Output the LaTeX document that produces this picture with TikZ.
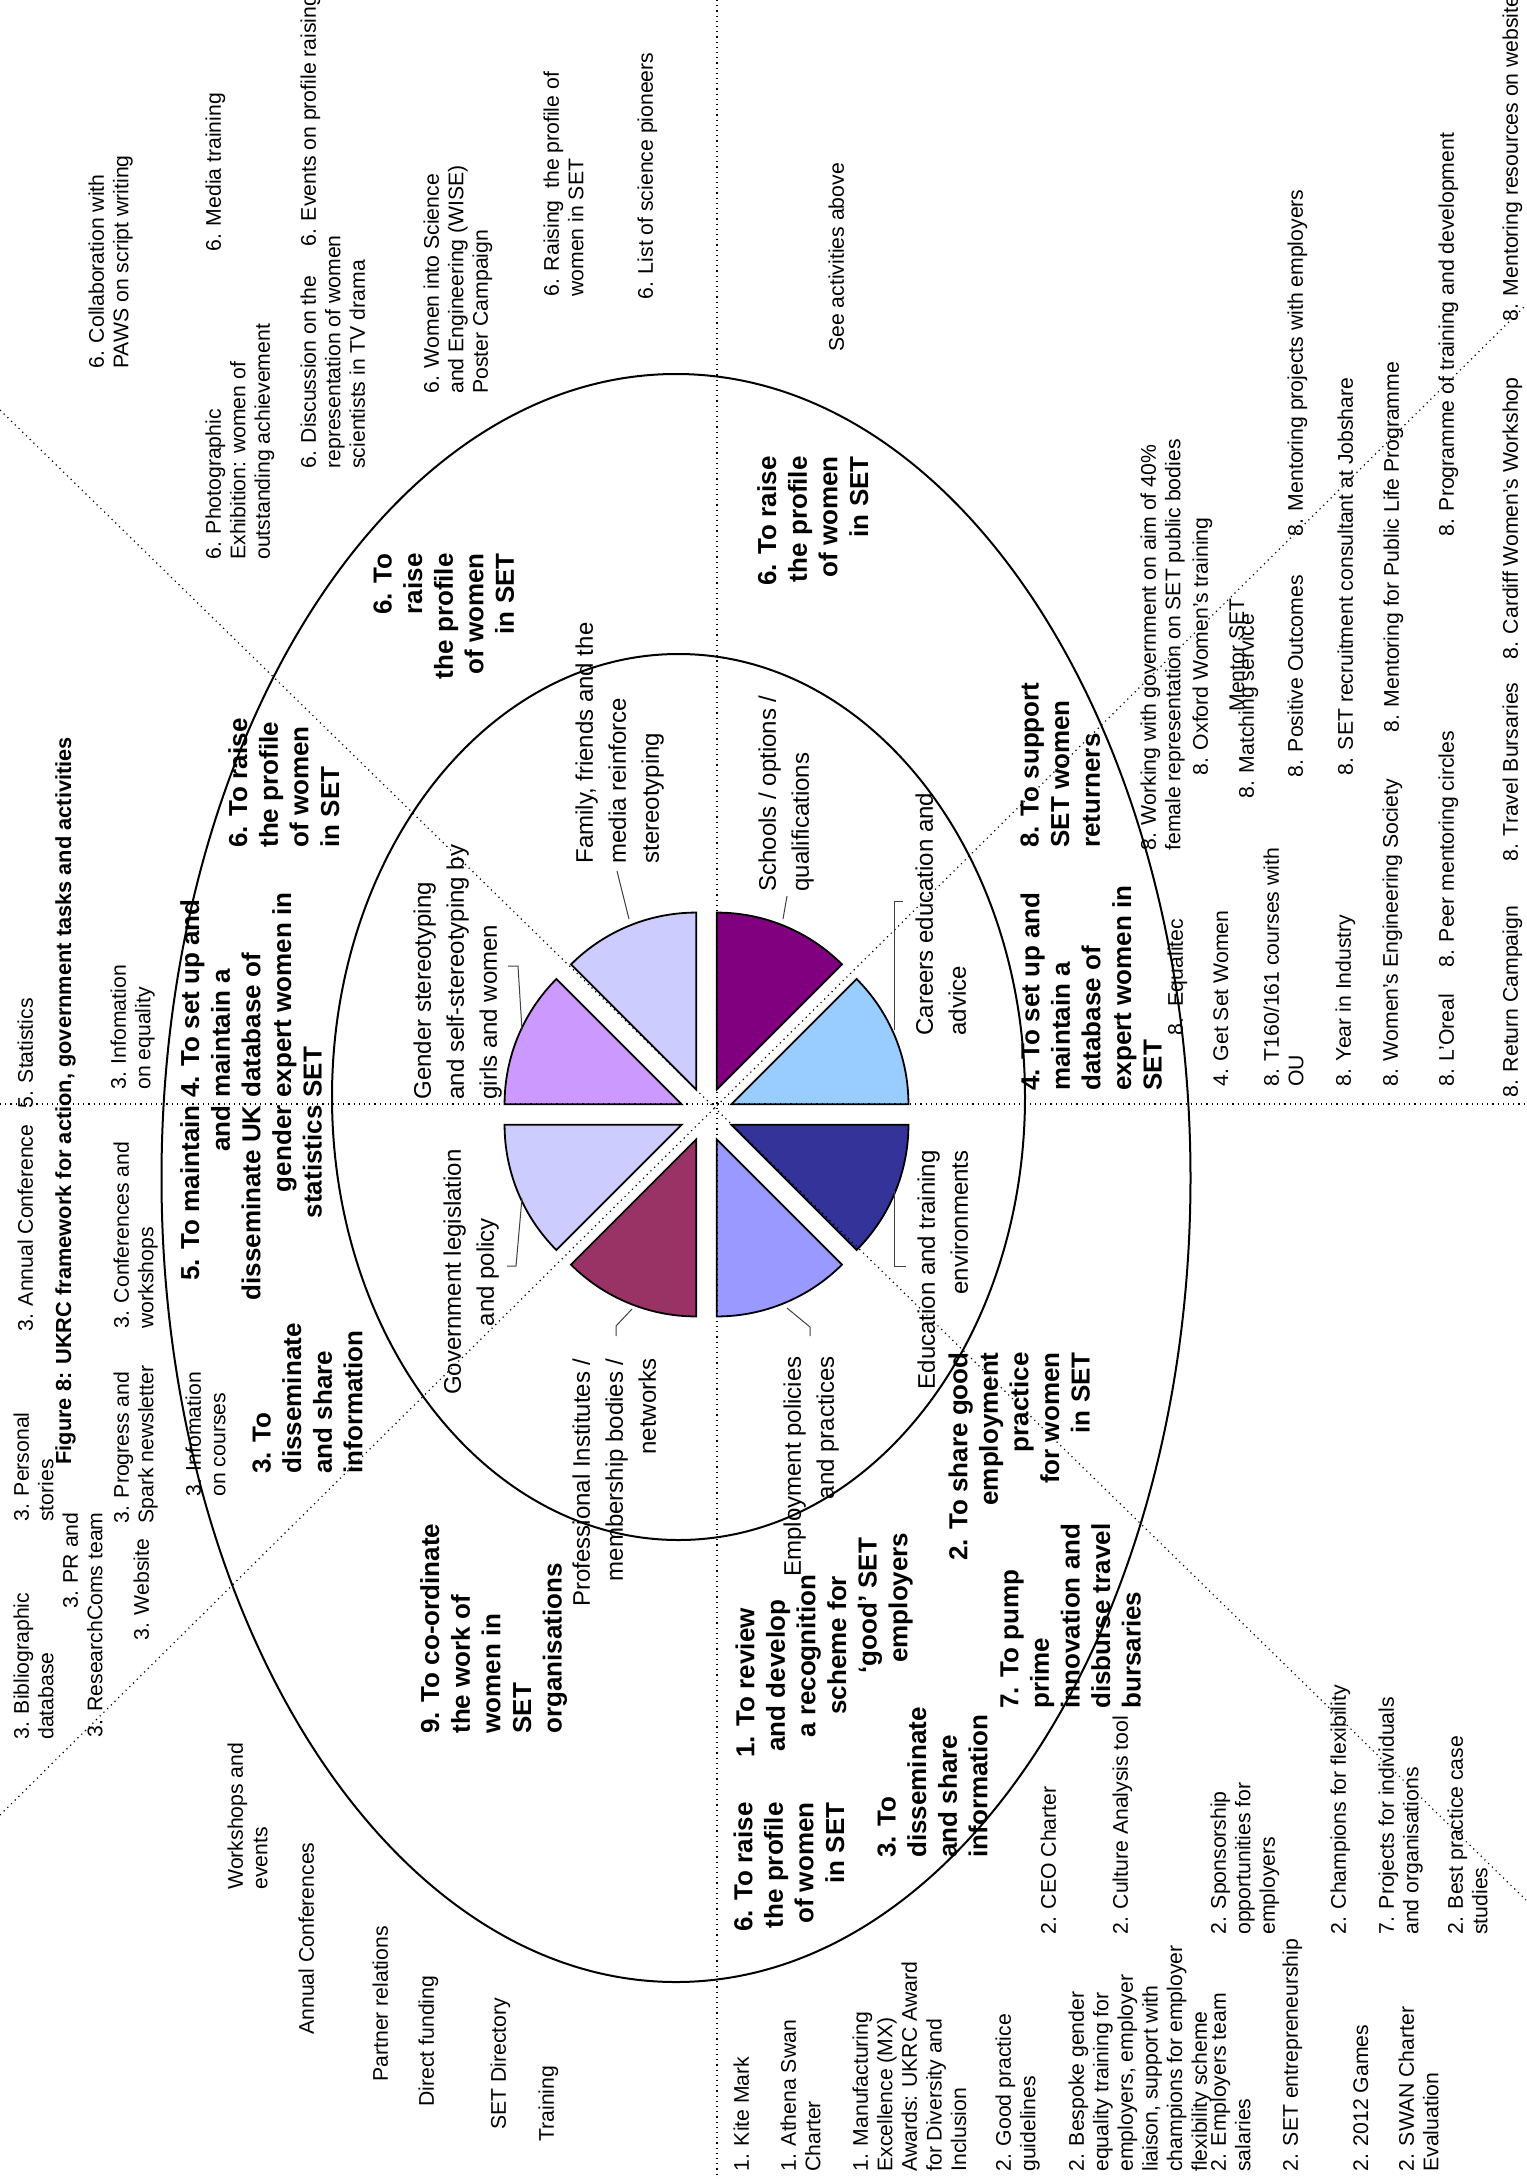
\documentclass[tikz,border=0pt]{standalone}
\usepackage{fontspec}
\setmainfont{Liberation Sans}
\usetikzlibrary{positioning}

\definecolor{careersblue}{HTML}{99CCFF}
\definecolor{schoolspurple}{HTML}{800080}
\definecolor{familylavender}{HTML}{CCCCFF}
\definecolor{genderlilac}{HTML}{CC99FF}
\definecolor{instmaroon}{HTML}{993366}
\definecolor{employperi}{HTML}{9999FF}
\definecolor{edunavy}{HTML}{333399}

\begin{document}
\begin{tikzpicture}[x=0.5pt,y=-0.5pt]
\tikzset{RING/.style={draw,line width=1pt}}
\tikzset{DIVIDER/.style={draw,line width=0.6pt,dotted}}
\tikzset{WEDGE/.style={draw=black,line width=0.9pt}}
\tikzset{LEADER/.style={draw,black!75,line width=0.5pt}}
\tikzset{TEXT/.style={rotate=90,inner sep=0pt,anchor=north west,align=left}}
\tikzset{ACTIVITY/.style={TEXT,font=\fontsize{10.6}{12.3}\selectfont}}
\tikzset{GOAL/.style={TEXT,font=\fontsize{13}{15.3}\selectfont\bfseries}}
\tikzset{FACTOR/.style={TEXT,font=\fontsize{12}{16.5}\selectfont}}
\tikzset{TITLE/.style={TEXT,font=\fontsize{10.9}{13}\selectfont\bfseries}}
\tikzset{FLUSH TOP/.style={anchor=north east,align=right}}
\tikzset{CENTRED/.style={anchor=north,align=center}}

\fill[white] (0,0) rectangle (1526,2179);
\useasboundingbox (0,0) rectangle (1526,2179);

% the two rings
\path[RING] (676,1178) ellipse [x radius=514.5,y radius=804];
\path[RING] (678.5,1097) ellipse [x radius=346.5,y radius=443];

% exploded pie of factors
\begin{scope}[shift={(706.5,1114.5)},yscale=-1]
\foreach \a/\c in {0/careersblue,45/schoolspurple,90/familylavender,135/genderlilac,
                   180/familylavender,225/instmaroon,270/employperi,315/edunavy}
  \path[WEDGE,fill=\c] ({\a+22.5}:27) -- ++(\a:177) arc[start angle=\a,end angle=\a+45,radius=177] -- cycle;
\end{scope}

% sector dividers
\path[DIVIDER] (717,0) -- (717,2179);
\path[DIVIDER] (0,1104) -- (1526,1104);
\path[DIVIDER] (0,410) -- (1526,1900);
\path[DIVIDER] (0,1815) -- (1526,305);

% leaders from factor labels
\path[LEADER] (629,919) -- (617,871);
\path[LEADER] (783,919) -- (787,896);
\path[LEADER] (903,901) -- (894,901) -- (894,1030);
\path[LEADER] (508,966) -- (518,966) -- (522,1030);
\path[LEADER] (522,1198) -- (516,1266) -- (507,1266);
\path[LEADER] (632,1309) -- (616,1326) -- (616,1336);
\path[LEADER] (787,1308) -- (810,1327) -- (810,1336);
\path[LEADER] (894,1191) -- (894,1266) -- (906,1266);

% factors
\node[FACTOR] (family) at (575,864) {Family, friends and the\\media reinforce\\stereotyping};
\node[FACTOR] (schools) at (758,892) {Schools / options /\\qualifications};
\node[FACTOR] (careers) at (915,1036) {Careers education and\\advice};
\node[FACTOR] (gender) at (413,1100) {Gender stereotyping\\and self-stereotyping by\\girls and women};
\node[FACTOR,CENTRED] (government) at (443,1272) {Government legislation\\and policy};
\node[FACTOR,FLUSH TOP] (institutes) at (572,1358) {Professional Institutes /\\membership bodies /\\networks};
\node[FACTOR,FLUSH TOP] (employment) at (783,1356) {Employment policies\\and practices};
\node[FACTOR,FLUSH TOP] (education) at (917,1150) {Education and training\\environments};

% goals
\node[GOAL,FLUSH TOP] (raise a) at (373,553) {6. To\\raise\\the profile\\of women\\in SET};
\node[GOAL] (raise b) at (228,848) {6. To raise\\the profile\\of women\\in SET};
\node[GOAL] (database a) at (180,1098) {4. To set up and\\maintain a\\database of\\expert women in\\SET};
\node[GOAL,FLUSH TOP] (raise c) at (757,456) {6. To raise\\the profile\\of women\\in SET};
\node[GOAL] (returners) at (1020,848) {8. To support\\SET women\\returners};
\node[GOAL] (database b) at (1020,1091) {4. To set up and\\maintain a\\database of\\expert women in\\SET};
\node[GOAL,FLUSH TOP] (statistics) at (180,1105) {5. To maintain\\and\\disseminate UK\\gender\\statistics};
\node[GOAL] (share a) at (252,1474) {3. To\\disseminate\\and share\\information};
\node[GOAL] (coordinate) at (420,1734) {9. To co-ordinate\\the work of\\women in\\SET\\organisations};
\node[GOAL,FLUSH TOP] (raise d) at (733,1802) {6. To raise\\the profile\\of women\\in SET};
\node[GOAL] (review) at (735,1758) {1. To review\\\hspace*{3pt}and develop\\\hspace*{10pt}a recognition\\\hspace*{21.5pt}scheme for\\\hspace*{42pt}`good' SET\\\hspace*{47.5pt}employers};
\node[GOAL] (share b) at (877,1858) {3. To\\disseminate\\and share\\information};
\node[GOAL,FLUSH TOP] (practice) at (948,1352) {2. To share good\\employment\\practice\\for women\\in SET};
\node[GOAL] (pump) at (1000,1709) {7. To pump\\prime\\innovation and\\disburse travel\\bursaries};

% title
\node[TITLE] (title) at (55,1465) {Figure 8: UKRC framework for action, government tasks and activities};

% activities, profile raising
\node[ACTIVITY] (paws) at (88,369) {6. Collaboration with\\PAWS on script writing};
\node[ACTIVITY] (media) at (205,252) {6. Media training};
\node[ACTIVITY] (photo) at (205,560) {6. Photographic\\Exhibition: women of\\outstanding achievement};
\node[ACTIVITY] (tvdrama) at (300,469) {6. Discussion on the\\representation of women\\scientists in TV drama};
\node[ACTIVITY] (events) at (300,247) {6. Events on profile raising};
\node[ACTIVITY] (wise) at (423,394) {6. Women into Science\\and Engineering (WISE)\\Poster Campaign};
\node[ACTIVITY] (raising) at (543,297) {6. Raising\ \ the profile of\\women in SET};
\node[ACTIVITY] (pioneers) at (637,300) {6. List of science pioneers};
\node[ACTIVITY] (seeabove) at (828,352) {See activities above};

% activities, returners
\node[ACTIVITY] (mentorproj) at (1287,537) {8. Mentoring projects with employers};
\node[ACTIVITY] (programme) at (1438,537) {8. Programme of training and development};
\node[ACTIVITY] (website8) at (1502,322) {8. Mentoring resources on website};
\node[ACTIVITY] (working) at (1140,851) {8. Working with government on aim of 40\%\\female representation on SET public bodies};
\node[ACTIVITY] (oxford) at (1192,776) {8. Oxford Women’s training};
\node[ACTIVITY] (matching) at (1238,799) {8. Matching service};
\node[ACTIVITY] (mentorset) at (1229,712) {Mentor SET};
\node[ACTIVITY] (positive) at (1287,778) {8. Positive Outcomes};
\node[ACTIVITY] (jobshare) at (1337,776) {8. SET recruitment consultant at Jobshare};
\node[ACTIVITY] (publiclife) at (1383,733) {8. Mentoring for Public Life Programme};
\node[ACTIVITY] (cardiff) at (1502,660) {8. Cardiff Women’s Workshop};
\node[ACTIVITY] (equalitec) at (1167,1036) {8.\ \ Equalitec};
\node[ACTIVITY] (getset) at (1213,1087) {4. Get Set Women};
\node[ACTIVITY] (courses) at (1263,1087) {8. T160/161 courses with\\OU};
\node[ACTIVITY] (industry) at (1335,1087) {8. Year in Industry};
\node[ACTIVITY] (wes) at (1382,1087) {8. Women’s Engineering Society};
\node[ACTIVITY] (loreal) at (1438,1087) {8. L’Oreal};
\node[ACTIVITY] (peer) at (1438,968) {8. Peer mentoring circles};
\node[ACTIVITY] (return) at (1502,1098) {8. Return Campaign};
\node[ACTIVITY] (bursaries) at (1502,862) {8. Travel Bursaries};

% activities, information
\node[ACTIVITY] (stats) at (17,1109) {5. Statistics};
\node[ACTIVITY] (annualconf) at (17,1332) {3. Annual Conference};
\node[ACTIVITY] (personal) at (13,1522) {3. Personal\\stories};
\node[ACTIVITY] (equality) at (110,1090) {3. Infomation\\on equality};
\node[ACTIVITY] (confs) at (113,1329) {3. Conferences and\\workshops};
\node[ACTIVITY] (spark) at (113,1524) {3. Progress and\\Spark newsletter};
\node[ACTIVITY] (oncourses) at (185,1497) {3. Infomation\\on courses};
\node[ACTIVITY] (biblio) at (13,1740) {3. Bibliographic\\database};
\node[ACTIVITY,FLUSH TOP] (prteam) at (62,1512) {3. PR and\\3. ResearchComs team};
\node[ACTIVITY] (website3) at (133,1641) {3. Website};

% activities, co-ordination
\node[ACTIVITY] (workshops) at (227,1890) {Workshops and\\events};
\node[ACTIVITY] (annualconfs) at (298,2035) {Annual Conferences};
\node[ACTIVITY] (partner) at (372,2082) {Partner relations};
\node[ACTIVITY] (funding) at (418,2107) {Direct funding};
\node[ACTIVITY] (directory) at (490,2130) {SET Directory};
\node[ACTIVITY] (training) at (538,2142) {Training};

% activities, employers
\node[ACTIVITY] (kite) at (733,2172) {1. Kite Mark};
\node[ACTIVITY] (athena) at (780,2172) {1. Athena Swan\\Charter};
\node[ACTIVITY] (mx) at (852,2172) {1. Manufacturing\\Excellence (MX)\\Awards: UKRC Award\\for Diversity and\\Inclusion};
\node[ACTIVITY] (guidelines) at (995,2172) {2. Good practice\\guidelines};
\node[ACTIVITY] (bespoke) at (1068,2172) {2. Bespoke gender\\equality training for\\employers, employer\\liaison, support with\\champions for employer\\flexibility scheme};
\node[ACTIVITY] (salaries) at (1210,2172) {2. Employers team\\salaries};
\node[ACTIVITY] (entrepreneur) at (1282,2172) {2. SET entrepreneurship};
\node[ACTIVITY] (games) at (1353,2172) {2. 2012 Games};
\node[ACTIVITY] (swan) at (1398,2172) {2. SWAN Charter\\Evaluation};
\node[ACTIVITY] (ceo) at (1040,1935) {2. CEO Charter};
\node[ACTIVITY] (culture) at (1112,1935) {2. Culture Analysis tool};
\node[ACTIVITY] (sponsor) at (1210,1935) {2. Sponsorship\\opportunities for\\employers};
\node[ACTIVITY] (champions) at (1330,1935) {2. Champions for flexibility};
\node[ACTIVITY] (projects) at (1378,1935) {7. Projects for individuals\\and organisations};
\node[ACTIVITY] (casestudies) at (1447,1935) {2. Best practice case\\studies};
\end{tikzpicture}
\end{document}
